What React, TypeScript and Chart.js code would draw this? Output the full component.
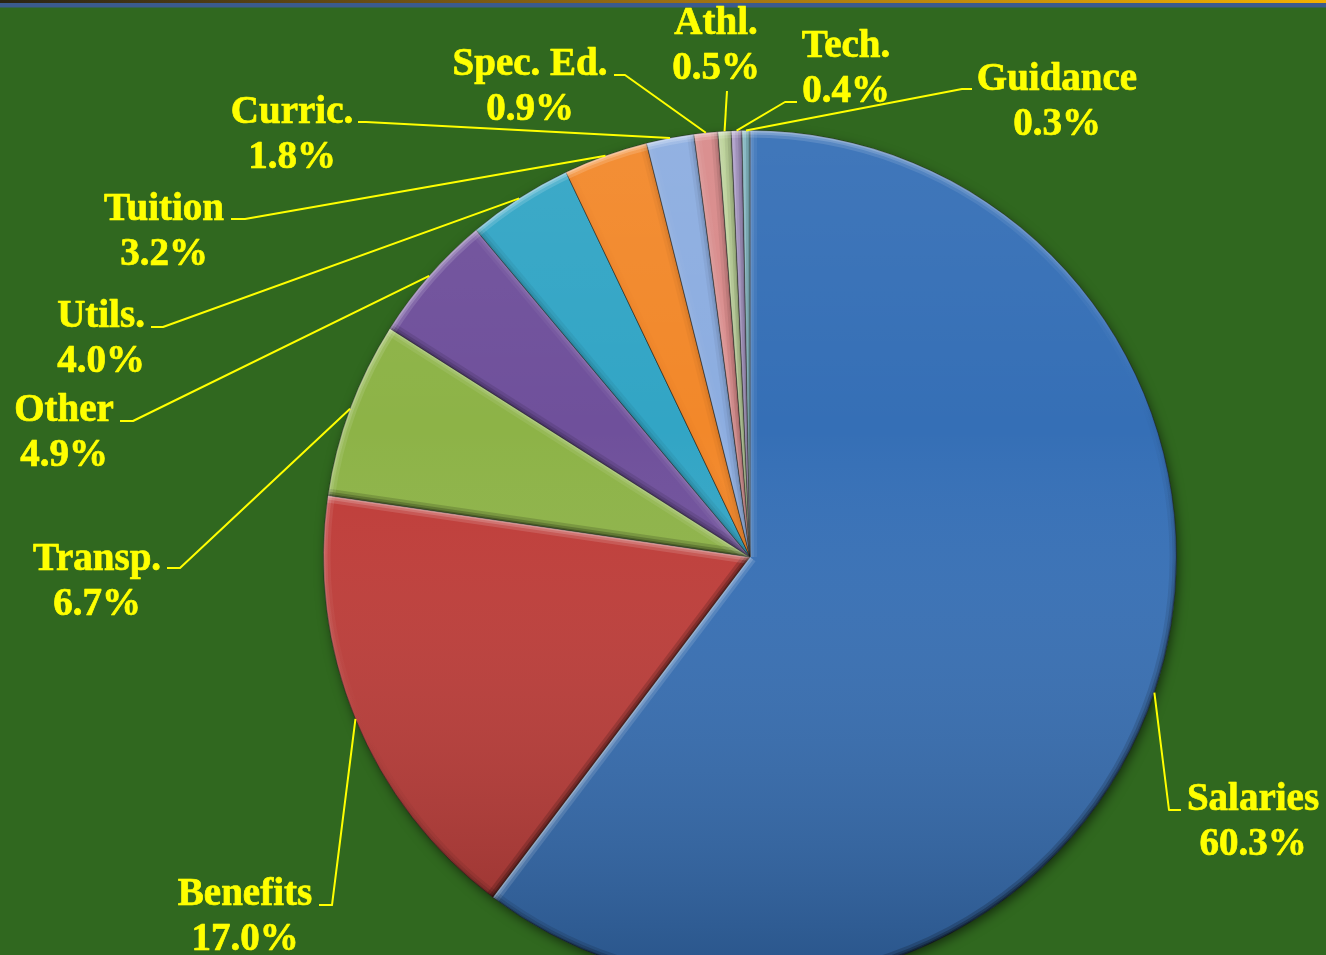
import React, { useEffect, useRef } from "react";
import { Chart, registerables } from "chart.js";

Chart.register(...registerables);

// ---- data ----
const categories = [
  "Salaries", "Benefits", "Transp.", "Other", "Utils.", "Tuition",
  "Curric.", "Spec. Ed.", "Athl.", "Tech.", "Guidance",
];
const shares = [60.3, 17.0, 6.7, 4.9, 4.0, 3.2, 1.8, 0.9, 0.5, 0.4, 0.3];

// ---- styles ----
const sliceColors = [
  "#356fb6", "#bf3b37", "#8db347", "#6f509b", "#32a5c5", "#f2882a",
  "#8cade0", "#d88a8a", "#b7cf93", "#a391c3", "#7dbdca",
];
const BG = "#30681f";
const TEXT = "#ffff00";
const FONT = 'bold 39px "Liberation Serif", "Times New Roman", serif';
const LINE_GAP = 45;

// label layout: text centre / first baseline, leader elbow, leader end
type LabelPos = { tx: number; ty: number; elbow: [number, number] | null; end: [number, number] };
const labelLayout: LabelPos[] = [
  { tx: 1253, ty: 810, elbow: [1169, 810], end: [1181, 810] },
  { tx: 245, ty: 905, elbow: [332, 905], end: [319, 905] },
  { tx: 97, ty: 570, elbow: [180, 568], end: [167, 568] },
  { tx: 64, ty: 421, elbow: [133, 421], end: [120, 421] },
  { tx: 101, ty: 327, elbow: [163, 327], end: [151, 327] },
  { tx: 164, ty: 220, elbow: [245, 219], end: [231, 219] },
  { tx: 292, ty: 123, elbow: [366, 122], end: [358, 122] },
  { tx: 530, ty: 75, elbow: [625, 75], end: [614, 75] },
  { tx: 716, ty: 34, elbow: null, end: [727, 91] },
  { tx: 846, ty: 57, elbow: [785, 102], end: [797, 102] },
  { tx: 1057, ty: 90, elbow: [962, 89], end: [972, 89] },
];

const LIGHT = (() => {
  const x = -0.4, y = -0.92, l = Math.hypot(x, y);
  return [x / l, y / l];
})();

function shadeColor(intensity: number, alpha: number) {
  if (intensity >= 0) return `rgba(255,255,255,${(alpha * intensity).toFixed(3)})`;
  return `rgba(0,0,0,${(alpha * -intensity * 1.2).toFixed(3)})`;
}

const piePlugin = {
  id: "pieDecor",
  beforeDraw(chart: any) {
    const { ctx, width, height } = chart;
    ctx.save();
    ctx.fillStyle = BG;
    ctx.fillRect(0, 0, width, height);
    const g = ctx.createLinearGradient(0, 0, width, 0);
    g.addColorStop(0, "#2a2414");
    g.addColorStop(0.5, "#9a6e12");
    g.addColorStop(1, "#f2b000");
    ctx.fillStyle = g;
    ctx.fillRect(0, 0, width, 3);
    ctx.fillStyle = "#3b5b8e";
    ctx.fillRect(0, 3, width, 4.5);
    ctx.restore();
  },
  beforeDatasetsDraw(chart: any) {
    const arc = chart.getDatasetMeta(0).data[0];
    if (!arc) return;
    const { x, y, outerRadius } = arc.getProps(["x", "y", "outerRadius"], true);
    const ctx = chart.ctx;
    ctx.save();
    ctx.shadowColor = "rgba(0,0,0,0.6)";
    ctx.shadowBlur = 12;
    ctx.shadowOffsetX = 2;
    ctx.shadowOffsetY = 4;
    ctx.fillStyle = "#244f18";
    ctx.beginPath();
    ctx.arc(x, y, outerRadius - 1, 0, Math.PI * 2);
    ctx.fill();
    ctx.restore();
  },
  afterDatasetsDraw(chart: any) {
    const ctx = chart.ctx;
    const arcs = chart.getDatasetMeta(0).data;
    if (!arcs.length) return;
    const c = arcs[0].getProps(["x", "y", "outerRadius"], true);
    // global vertical shading
    ctx.save();
    ctx.beginPath();
    ctx.arc(c.x, c.y, c.outerRadius, 0, Math.PI * 2);
    ctx.clip();
    const g = ctx.createLinearGradient(0, c.y - c.outerRadius, 0, c.y + c.outerRadius);
    g.addColorStop(0, "rgba(255,255,255,0.06)");
    g.addColorStop(0.35, "rgba(255,255,255,0)");
    g.addColorStop(1, "rgba(0,0,0,0.25)");
    ctx.fillStyle = g;
    ctx.fillRect(c.x - c.outerRadius, c.y - c.outerRadius, c.outerRadius * 2, c.outerRadius * 2);
    ctx.restore();

    // bevel
    const passes = [
      { w: 14, a: 0.15 },
      { w: 8, a: 0.2 },
      { w: 3.5, a: 0.25 },
    ];
    const conics = passes.map((p) => {
      const cg = ctx.createConicGradient(0, c.x, c.y);
      const N = 72;
      for (let k = 0; k <= N; k++) {
        const a = (k / N) * Math.PI * 2;
        cg.addColorStop(k / N, shadeColor(Math.cos(a) * LIGHT[0] + Math.sin(a) * LIGHT[1], p.a));
      }
      return cg;
    });
    arcs.forEach((el: any) => {
      const { x, y, startAngle: sA, endAngle: eA, outerRadius: R } = el.getProps(
        ["x", "y", "startAngle", "endAngle", "outerRadius"],
        true
      );
      ctx.save();
      ctx.beginPath();
      ctx.moveTo(x, y);
      ctx.arc(x, y, R, sA, eA);
      ctx.closePath();
      ctx.clip();
      ctx.lineCap = "butt";
      passes.forEach((p, pi) => {
        ctx.lineWidth = p.w;
        const n1 = [Math.sin(sA), -Math.cos(sA)];
        ctx.strokeStyle = shadeColor(n1[0] * LIGHT[0] + n1[1] * LIGHT[1], p.a);
        ctx.beginPath();
        ctx.moveTo(x, y);
        ctx.lineTo(x + Math.cos(sA) * R, y + Math.sin(sA) * R);
        ctx.stroke();
        const n2 = [-Math.sin(eA), Math.cos(eA)];
        ctx.strokeStyle = shadeColor(n2[0] * LIGHT[0] + n2[1] * LIGHT[1], p.a);
        ctx.beginPath();
        ctx.moveTo(x, y);
        ctx.lineTo(x + Math.cos(eA) * R, y + Math.sin(eA) * R);
        ctx.stroke();
        ctx.strokeStyle = conics[pi];
        ctx.beginPath();
        ctx.arc(x, y, R, sA - 0.01, eA + 0.01);
        ctx.stroke();
      });
      ctx.restore();
    });
  },
  afterDraw(chart: any) {
    const ctx = chart.ctx;
    const arcs = chart.getDatasetMeta(0).data;
    ctx.save();
    ctx.font = FONT;
    ctx.fillStyle = TEXT;
    ctx.strokeStyle = TEXT;
    ctx.textAlign = "center";
    ctx.textBaseline = "alphabetic";
    ctx.lineJoin = "round";
    arcs.forEach((el: any, i: number) => {
      const lay = labelLayout[i];
      const { x, y, startAngle, endAngle, outerRadius } = el.getProps(
        ["x", "y", "startAngle", "endAngle", "outerRadius"],
        true
      );
      const mid = (startAngle + endAngle) / 2;
      const sx = x + Math.cos(mid) * outerRadius;
      const sy = y + Math.sin(mid) * outerRadius;
      ctx.lineWidth = 2;
      ctx.beginPath();
      ctx.moveTo(sx, sy);
      if (lay.elbow) ctx.lineTo(lay.elbow[0], lay.elbow[1]);
      ctx.lineTo(lay.end[0], lay.end[1]);
      ctx.stroke();
      const pct = `${shares[i].toFixed(1)}%`;
      ctx.fillText(categories[i], lay.tx, lay.ty);
      ctx.fillText(pct, lay.tx, lay.ty + LINE_GAP);
      ctx.lineWidth = 0.7;
      ctx.strokeText(categories[i], lay.tx, lay.ty);
      ctx.strokeText(pct, lay.tx, lay.ty + LINE_GAP);
    });
    ctx.restore();
  },
};

export default function App() {
  const canvasRef = useRef<HTMLCanvasElement | null>(null);

  useEffect(() => {
    if (!canvasRef.current) return;
    const chart = new Chart(canvasRef.current, {
      type: "pie",
      data: {
        labels: categories,
        datasets: [
          {
            data: shares,
            backgroundColor: sliceColors,
            borderColor: "rgba(30,30,30,0.55)",
            borderWidth: 1,
          },
        ],
      },
      options: {
        animation: false,
        responsive: true,
        maintainAspectRatio: false,
        rotation: 0,
        layout: { padding: { top: 130, left: 323, right: 149, bottom: 16 } },
        plugins: {
          legend: { display: false },
          tooltip: { enabled: false },
        },
        events: [],
      },
      plugins: [piePlugin],
    });
    return () => chart.destroy();
  }, []);

  return (
    <div
      style={{
        position: "fixed",
        left: 0,
        top: 0,
        width: 1326,
        height: 955,
        overflow: "hidden",
        background: BG,
      }}
    >
      <div style={{ position: "relative", width: 1326, height: 1000 }}>
        <canvas ref={canvasRef} />
      </div>
    </div>
  );
}
